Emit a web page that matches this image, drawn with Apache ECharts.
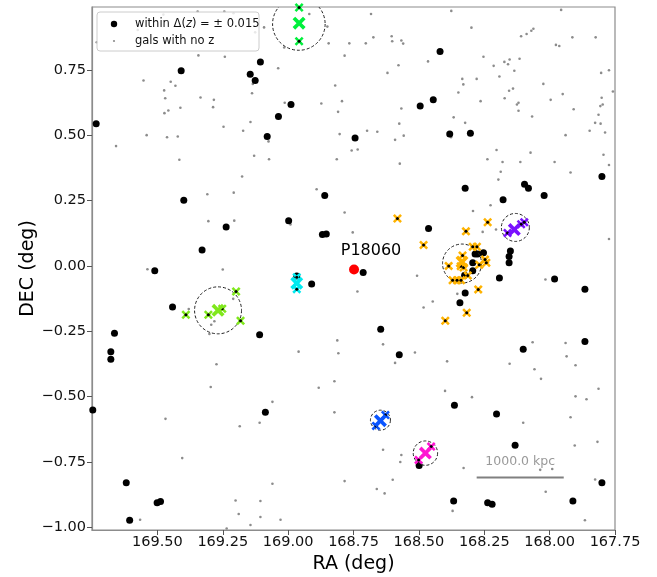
<!DOCTYPE html>
<html><head><meta charset="utf-8">
<script src="https://cdn.jsdelivr.net/npm/echarts@6/dist/echarts.min.js"></script>
<style>html,body{margin:0;padding:0;background:#fff}#c{width:657px;height:577px}</style>
</head><body><div id="c"></div>
<script>
// ---------------- DATA ----------------
const raTicks = [169.5, 169.25, 169.0, 168.75, 168.5, 168.25, 168.0, 167.75];
const decTicks = [-1.0, -0.75, -0.5, -0.25, 0.0, 0.25, 0.5, 0.75];

// galaxies within Δz = ±0.015 (black)
const withinDz = [
[169.409,0.746],[169.106,0.780],[169.145,0.733],[169.126,0.709],[168.989,0.617],[169.037,0.571],[169.734,0.544],[169.080,0.495],[168.744,0.489],[168.860,0.269],[169.399,0.251],[168.419,0.820],[168.445,0.635],[168.495,0.611],[168.382,0.504],[168.303,0.507],[167.800,0.342],[168.323,0.297],[168.096,0.312],[168.081,0.297],[168.021,0.269],[168.178,0.253],[168.998,0.173],[169.237,0.149],[168.869,0.120],[168.854,0.122],[169.329,0.061],[169.510,-0.019],[168.713,-0.025],[168.967,-0.039],[168.910,-0.069],[169.442,-0.157],[169.664,-0.258],[169.109,-0.263],[169.678,-0.328],[169.678,-0.357],[168.463,0.143],[168.285,0.045],[168.275,0.045],[168.253,0.050],[168.150,0.057],[168.155,0.036],[168.155,0.012],[168.294,0.012],[168.294,-0.019],[168.325,-0.036],[168.192,-0.046],[167.981,-0.050],[167.865,-0.089],[168.323,-0.104],[168.343,-0.141],[168.646,-0.242],[167.865,-0.289],[168.575,-0.340],[168.101,-0.319],[169.747,-0.551],[169.087,-0.560],[169.619,-0.829],[169.501,-0.906],[169.488,-0.901],[169.606,-0.973],[168.364,-0.533],[168.203,-0.566],[168.132,-0.686],[168.499,-0.763],[167.800,-0.829],[168.367,-0.899],[168.237,-0.906],[168.220,-0.912],[167.911,-0.899]
];

// galaxies with no z (grey)
const noZ = [
[169.575,0.902],[169.732,0.855],[169.346,0.973],[169.477,0.961],[169.244,0.973],[169.209,0.966],[169.126,0.893],[169.092,0.912],[169.242,0.800],[169.343,0.805],[169.015,0.835],[168.919,0.963],[168.850,0.915],[168.845,0.851],[168.766,0.851],[168.784,0.804],[168.703,0.851],[169.553,0.709],[169.449,0.704],[169.431,0.689],[169.474,0.671],[169.470,0.641],[169.335,0.644],[169.284,0.635],[169.287,0.607],[169.412,0.605],[169.458,0.594],[169.473,0.584],[169.135,0.696],[169.138,0.660],[169.038,0.756],[169.013,0.624],[168.873,0.621],[168.820,0.690],[168.794,0.630],[168.809,0.589],[169.247,0.532],[169.172,0.517],[169.144,0.550],[169.541,0.500],[169.463,0.492],[169.422,0.495],[169.658,0.458],[169.075,0.476],[168.803,0.504],[168.698,0.517],[168.757,0.441],[168.734,0.445],[169.416,0.406],[169.130,0.421],[169.073,0.408],[168.814,0.408],[169.176,0.342],[169.309,0.274],[169.208,0.280],[168.891,0.293],
[168.683,0.963],[168.376,0.975],[167.956,0.979],[168.674,0.874],[168.604,0.878],[168.602,0.859],[168.567,0.862],[168.560,0.850],[168.299,0.911],[168.109,0.878],[168.088,0.887],[168.070,0.899],[168.062,0.907],[167.913,0.874],[167.824,0.874],[167.976,0.845],[167.963,0.841],[168.465,0.782],[168.578,0.767],[168.620,0.738],[168.253,0.800],[168.214,0.765],[168.173,0.780],[168.159,0.771],[168.153,0.789],[168.115,0.792],[168.135,0.746],[168.192,0.724],[168.334,0.715],[168.279,0.715],[168.330,0.694],[168.349,0.663],[168.264,0.630],[168.172,0.641],[168.140,0.678],[168.155,0.670],[168.125,0.617],[168.119,0.624],[168.119,0.593],[168.024,0.696],[167.996,0.635],[167.950,0.657],[167.908,0.599],[167.803,0.738],[167.773,0.748],[167.758,0.667],[167.801,0.643],[167.806,0.611],[167.797,0.617],[167.813,0.578],[167.826,0.547],[167.805,0.544],[167.847,0.517],[167.788,0.510],[167.794,0.425],[167.773,0.386],[167.920,0.357],[167.939,0.500],[168.067,0.571],[168.367,0.568],[168.323,0.547],[168.567,0.602],[168.575,0.544],[168.659,0.513],[168.591,0.482],[168.558,0.498],[168.377,0.492],[168.573,0.391],[168.203,0.443],[168.238,0.408],[168.180,0.397],[168.112,0.397],[168.073,0.433],[167.981,0.397],[168.187,0.360],[168.196,0.330],
[169.305,0.171],[169.206,0.173],[168.991,0.158],[168.784,0.204],[168.753,0.128],[169.538,-0.013],[169.250,-0.014],[168.735,-0.098],[169.380,-0.165],[169.210,-0.126],[169.282,-0.212],[169.294,-0.225],[169.301,-0.260],[168.812,-0.285],[168.808,-0.334],[168.960,-0.328],
[168.226,0.232],[168.293,0.210],[168.256,0.130],[168.205,0.139],[167.773,0.103],[168.507,-0.038],[168.353,-0.107],[168.447,-0.136],[168.482,-0.159],[168.016,-0.052],[168.637,-0.300],[168.515,-0.331],[168.065,-0.292],[167.939,-0.295],[167.935,-0.346],
[169.274,-0.376],[169.296,-0.463],[168.883,-0.466],[168.823,-0.441],[168.823,-0.560],[169.060,-0.520],[169.109,-0.600],[169.185,-0.613],[169.469,-0.585],[169.405,-0.735],[169.060,-0.833],[168.784,-0.823],[169.201,-0.897],[169.106,-0.899],[169.189,-0.949],[169.106,-0.960],[169.144,-0.991],[169.029,-0.971],[169.235,-1.004],[169.566,-0.971],
[168.591,-0.371],[168.392,-0.365],[168.153,-0.374],[168.058,-0.395],[168.033,-0.432],[167.901,-0.380],[168.400,-0.478],[168.297,-0.502],[167.901,-0.499],[167.859,-0.510],[167.813,-0.470],[167.920,-0.579],[168.101,-0.600],[167.817,-0.673],[167.904,-0.687],[168.637,-0.703],[168.567,-0.723],[168.571,-0.750],[168.329,-0.773],[168.036,-0.780],[167.990,-0.777],[168.600,-0.818],[168.661,-0.853],[168.631,-0.870],[167.826,-0.817],[168.015,-0.864],[168.371,-0.937],[167.865,-0.973]
];

// groups: centroid (big X), members (small X), circle centre + radius (deg)
const groupColors = ['#00f03c', '#80e81c', '#00eaf0', '#ffb300', '#7a10ff', '#0a55ff', '#ff14d2'];
const groupCentroids = [[168.958,0.928],[169.268,-0.170],[168.967,-0.066],[168.335,0.015],[168.135,0.139],[168.647,-0.592],[168.475,-0.716]];
const groupCircles = [[168.959,0.925,0.1005],[169.268,-0.170,0.0898],null,[168.335,0.009,0.0745],[168.131,0.147,0.0535],[168.647,-0.590,0.0382],[168.475,-0.716,0.0466]];
const groupMembers = [
  [[168.958,0.988],[168.958,0.859]],
  [[169.199,-0.098],[169.391,-0.187],[169.305,-0.187],[169.182,-0.210],[169.252,-0.164]],
  [[168.967,-0.043],[168.967,-0.089]],
  [[168.582,0.181],[168.237,0.167],[168.320,0.132],[168.482,0.080],[168.294,0.073],[168.278,0.073],[168.333,0.040],[168.247,0.024],[168.242,0.012],[168.269,0.004],[168.386,0.000],[168.340,-0.001],[168.329,-0.006],[168.313,-0.037],[168.371,-0.055],[168.354,-0.055],[168.339,-0.055],[168.273,-0.090],[168.317,-0.179],[168.399,-0.210]],
  [[168.161,0.126],[168.109,0.159],[168.097,0.167]],
  [[168.664,-0.612],[168.628,-0.570]],
  [[168.501,-0.742],[168.453,-0.691]]
];

const target = {name: 'P18060', pos: [168.748, -0.014]};
const scaleBar = {label: '1000.0 kpc', ends: [[168.279, -0.809], [167.946, -0.809]]};

// ---------------- CHART ----------------
const FONT = 'DejaVu Sans';
const XPATH = 'path://M2,0 L5,3 L8,0 L10,2 L7,5 L10,8 L8,10 L5,7 L2,10 L0,8 L3,5 L0,2 Z';
const minusFmt = v => (v < 0 ? '\u2212' : '') + Math.abs(v).toFixed(2);

const series = [];
series.push({type:'scatter', name:'gals with no z', data: noZ, symbolSize: 2.6,
  itemStyle:{color:'#8c8c8c', opacity:1}, silent:true, z:2});
series.push({type:'scatter', name:'within dz', data: withinDz, symbolSize: 7,
  itemStyle:{color:'#000', opacity:1}, silent:true, z:3});
series.push({type:'custom', name:'circles', coordinateSystem:'cartesian2d', clip:true, z:4, silent:true,
  data: groupCircles.filter(c => c),
  renderItem: (params, api) => {
    const c = api.coord([api.value(0), api.value(1)]);
    const s = api.size([api.value(2), api.value(2)]);
    return {type:'circle', shape:{cx:c[0], cy:c[1], r:Math.abs(s[1])},
      style:{fill:'none', stroke:'#222', lineWidth:1, lineDash:[3,2]}};
  }});
groupMembers.forEach((m, i) => {
  series.push({type:'scatter', data:m, symbol:XPATH, symbolSize:9, itemStyle:{color:groupColors[i], opacity:1}, silent:true, z:5});
  series.push({type:'scatter', data:m, symbolSize:3, itemStyle:{color:'#000', opacity:1}, silent:true, z:6});
});
series.push({type:'scatter', data: groupCentroids.map((p,i)=>({value:p, itemStyle:{color:groupColors[i], opacity:1}})),
  symbol:XPATH, symbolSize:13, silent:true, z:7});
series.push({type:'scatter', data:[target.pos], symbolSize:10, itemStyle:{color:'#ff0000', opacity:1}, silent:true, z:8,
  label:{show:true, formatter:target.name, position:'top', distance:6, offset:[17,0],
    fontFamily:FONT, fontSize:16, color:'#000'}});
series.push({type:'line', data: scaleBar.ends, symbol:'none', silent:true, z:8,
  lineStyle:{color:'#808080', width:2}});
series.push({type:'scatter', silent:true, z:8, symbolSize:0,
  data:[[(scaleBar.ends[0][0]+scaleBar.ends[1][0])/2, scaleBar.ends[0][1]]],
  label:{show:true, formatter:scaleBar.label, position:'top', distance:9,
    fontFamily:FONT, fontSize:12.5, color:'#808080'}});

const chart = echarts.init(document.getElementById('c'), null, {renderer:'canvas'});
chart.setOption({
  animation:false,
  backgroundColor:'#fff',
  grid:{left:92, top:7, width:523, height:523, outerBoundsMode:'none', containLabel:false,
    show:true, borderColor:'#8c8c8c', borderWidth:1.2, backgroundColor:'transparent'},
  xAxis:{type:'value', min:167.75, max:169.75, inverse:true,
    name:'RA (deg)', nameLocation:'middle', nameGap:25, nameMoveOverlap:false,
    nameTextStyle:{fontFamily:FONT, fontSize:19, color:'#000'},
    axisLine:{show:true, onZero:false, lineStyle:{color:'#8c8c8c', width:1.2}},
    axisTick:{show:true, length:5, customValues:raTicks, lineStyle:{color:'#555'}},
    axisLabel:{customValues:raTicks, formatter: v => v.toFixed(2), margin:5,
      fontFamily:FONT, fontSize:14.5, color:'#111'},
    splitLine:{show:false}},
  yAxis:{type:'value', min:-1.01, max:0.99,
    name:'DEC (deg)', nameLocation:'middle', nameGap:54, nameMoveOverlap:false,
    nameTextStyle:{fontFamily:FONT, fontSize:19, color:'#000'},
    axisLine:{show:true, onZero:false, lineStyle:{color:'#8c8c8c', width:1.2}},
    axisTick:{show:true, length:5, customValues:decTicks, lineStyle:{color:'#555'}},
    axisLabel:{customValues:decTicks, formatter: minusFmt, margin:6,
      fontFamily:FONT, fontSize:14.5, color:'#111'},
    splitLine:{show:false}},
  graphic:[
    {type:'rect', x:97, y:12, z:100, shape:{width:162, height:39, r:3},
      style:{fill:'rgba(255,255,255,0.8)', stroke:'#cccccc', lineWidth:1}},
    {type:'circle', z:101, shape:{cx:114, cy:24, r:3.2}, style:{fill:'#000'}},
    {type:'circle', z:101, shape:{cx:114, cy:41, r:1.1}, style:{fill:'#8c8c8c'}},
    {type:'text', x:135, y:24, z:101, style:{text:'within Δ({i|z}) = ± 0.015', fontFamily:FONT, fontSize:11.5,
      fill:'#111', verticalAlign:'middle', rich:{i:{fontStyle:'italic', fontFamily:FONT, fontSize:11.5}}}},
    {type:'text', x:135, y:41, z:101, style:{text:'gals with no z', fontFamily:FONT, fontSize:11.5,
      fill:'#111', verticalAlign:'middle'}}
  ],
  series: series
});
</script></body></html>
